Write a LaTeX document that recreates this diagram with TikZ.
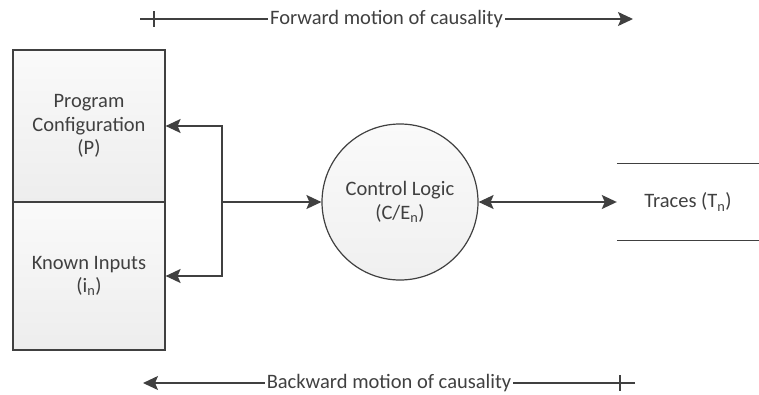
\documentclass[tikz,border=0pt]{standalone}
\usepackage{fontspec}
\setmainfont{Carlito}
\usetikzlibrary{arrows.meta,calc}
\definecolor{ink}{HTML}{404040}
\tikzset{
  arrowhead/.tip={Stealth[length=15pt,width=14pt,inset=3pt]},
  conn/.style={draw=ink,line width=1.4pt},
  tip/.style={-arrowhead},
  bothtips/.style={arrowhead-arrowhead},
  cell/.style={draw=ink,line width=1.2pt,minimum width=152pt,align=center,
    top color=gray!4,bottom color=gray!14,text=ink,inner sep=0pt},
  txt/.style={text=ink,font=\fontsize{20.5}{23.5}\selectfont},
  axislabel/.style={txt,fill=white,inner sep=2pt},
}
\begin{document}
\begin{tikzpicture}[x=1pt,y=-1pt]
\useasboundingbox (0,0) rectangle (759,394);
% the two stacked input cells
\node[cell,txt,minimum height=152pt] (cfg) at (89,126) {Program\\Configuration\\(P)};
\node[cell,txt,minimum height=148pt] (inp) at (89,276) {Known Inputs\\(i\textsubscript{n})};
% control logic process
\node[circle,draw=ink,line width=1.2pt,minimum size=156pt,inner sep=0pt,
  top color=gray!4,bottom color=gray!12,txt,align=center] (ctl) at (400,202)
  {Control Logic\\(C/E\textsubscript{n})};
% trace data store
\node[txt,minimum width=142pt,minimum height=76pt,inner sep=0pt] (trc) at (688,202) {Traces (T\textsubscript{n})};
\draw[conn,line width=1.2pt] (trc.north west) -- (trc.north east);
\draw[conn,line width=1.2pt] (trc.south west) -- (trc.south east);
% branching connector between inputs and control logic
\coordinate (j) at (222,202);
\draw[conn] (j |- cfg.east) -- (j |- inp.east);
\draw[conn,tip] (j) |- (cfg.east);
\draw[conn,tip] (j) |- (inp.east);
\draw[conn,tip] (j) -- (ctl.west);
\draw[conn,bothtips] (ctl.east) -- (trc.west);
% causality axes
\coordinate (fs) at (140,19);
\coordinate (fe) at (633,19);
\coordinate (ft) at (154,19);
\draw[conn,tip] (fs) -- node[axislabel] (fl) {Forward motion of causality} (fe);
\draw[conn] ($(ft)+(0,-8)$) -- ($(ft)+(0,8)$);
\coordinate (bs) at (635,383);
\coordinate (be) at (143,383);
\coordinate (bt) at (620,383);
\draw[conn,tip] (bs) -- node[axislabel] (bl) {Backward motion of causality} (be);
\draw[conn] ($(bt)+(0,-8)$) -- ($(bt)+(0,8)$);
\end{tikzpicture}
\end{document}
